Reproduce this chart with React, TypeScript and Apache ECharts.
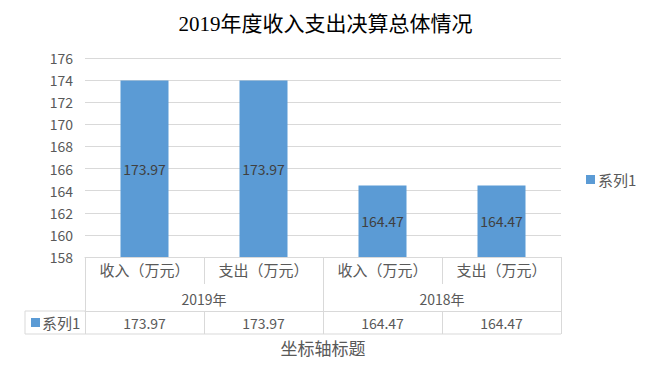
import React, { useEffect, useRef } from "react";
import * as echarts from "echarts";

const titleText = "2019年度收入支出决算总体情况";
const categories = ["收入（万元）", "支出（万元）", "收入（万元）", "支出（万元）"];
const groups = ["2019年", "2018年"];
const seriesName = "系列1";
const values = [173.97, 173.97, 164.47, 164.47];
const axisTitle = "坐标轴标题";

const GRID_LEFT = 85;
const GRID_RIGHT_X = 561;
const GRID_TOP = 58;
const GRID_BOTTOM_Y = 257;
const W = 651;
const H = 379;
const LINE = "#D9D9D9";
const TXT = "#595959";
const BAR = "#5B9BD5";
const FONT = "'Noto Sans CJK SC', 'Liberation Sans', sans-serif";

export default function App() {
  const ref = useRef<HTMLDivElement>(null);
  useEffect(() => {
    if (!ref.current) return;
    const chart = echarts.init(ref.current, undefined, { renderer: "svg" });
    const rowBottom = 334;
    const option: any = {
      animation: false,
      backgroundColor: "#fff",
      textStyle: { fontFamily: FONT },
      title: {
        text: titleText,
        left: "center",
        top: 8,
        textStyle: {
          fontSize: 21,
          fontWeight: "normal",
          color: "#000",
          fontFamily: "'Liberation Serif', 'Noto Sans CJK SC', serif",
        },
      },
      legend: {
        data: [seriesName],
        orient: "vertical",
        left: 581,
        top: 167,
        icon: "rect",
        itemWidth: 9,
        itemHeight: 9,
        itemGap: 4,
        textStyle: { fontSize: 15, color: TXT, fontFamily: FONT, padding: [0, 0, 0, -2] },
      },
      grid: {
        left: GRID_LEFT,
        right: W - GRID_RIGHT_X,
        top: GRID_TOP,
        bottom: H - GRID_BOTTOM_Y,
        containLabel: false,
      },
      yAxis: {
        type: "value",
        min: 158,
        max: 176,
        interval: 2,
        axisLine: { show: false },
        axisTick: { show: false },
        splitLine: { lineStyle: { color: LINE, width: 1 } },
        axisLabel: { color: TXT, fontSize: 14, margin: 12, fontFamily: FONT },
      },
      xAxis: [
        {
          type: "category",
          data: categories,
          position: "bottom",
          axisLine: { show: true, lineStyle: { color: LINE, width: 1 } },
          axisTick: { show: true, length: 27, lineStyle: { color: LINE } },
          axisLabel: { color: TXT, fontSize: 15, margin: 5, fontFamily: FONT, interval: 0 },
        },
        {
          type: "category",
          data: groups,
          position: "bottom",
          offset: 27,
          axisLine: { show: false },
          axisTick: { show: true, length: 27, lineStyle: { color: LINE } },
          axisLabel: { color: TXT, fontSize: 14, margin: 8, fontFamily: FONT, interval: 0 },
        },
        {
          type: "category",
          data: values.map((v) => v.toFixed(2)),
          position: "bottom",
          offset: 54,
          axisLine: { show: true, lineStyle: { color: LINE, width: 1 } },
          axisTick: { show: true, length: 23, lineStyle: { color: LINE } },
          axisLabel: { color: TXT, fontSize: 14, margin: 5, fontFamily: FONT, interval: 0 },
          name: axisTitle,
          nameLocation: "middle",
          nameGap: 28,
          nameTextStyle: { color: TXT, fontSize: 17, fontFamily: FONT },
        },
      ],
      series: [
        {
          name: seriesName,
          type: "bar",
          xAxisIndex: 0,
          data: values,
          barWidth: 48,
          itemStyle: { color: BAR },
          label: {
            show: true,
            position: "inside",
            color: "#404040",
            fontSize: 14,
            fontFamily: FONT,
            formatter: (p: any) => Number(p.value).toFixed(2),
          },
        },
      ],
      graphic: [
        { type: "line", shape: { x1: 25, y1: rowBottom, x2: GRID_RIGHT_X, y2: rowBottom }, style: { stroke: LINE, lineWidth: 1 } },
        { type: "line", shape: { x1: 25, y1: 311, x2: GRID_LEFT, y2: 311 }, style: { stroke: LINE, lineWidth: 1 } },
        { type: "line", shape: { x1: 25, y1: 311, x2: 25, y2: rowBottom }, style: { stroke: LINE, lineWidth: 1 } },
        { type: "rect", shape: { x: 31, y: 318, width: 9, height: 9 }, style: { fill: BAR } },
        {
          type: "text",
          x: 42,
          y: 322.5,
          style: { text: seriesName, fill: TXT, fontSize: 15, fontFamily: FONT, verticalAlign: "middle" },
        },
      ],
    };
    chart.setOption(option);
    return () => chart.dispose();
  }, []);
  return <div ref={ref} style={{ width: W, height: H, position: "absolute", left: 0, top: 0 }} />;
}
